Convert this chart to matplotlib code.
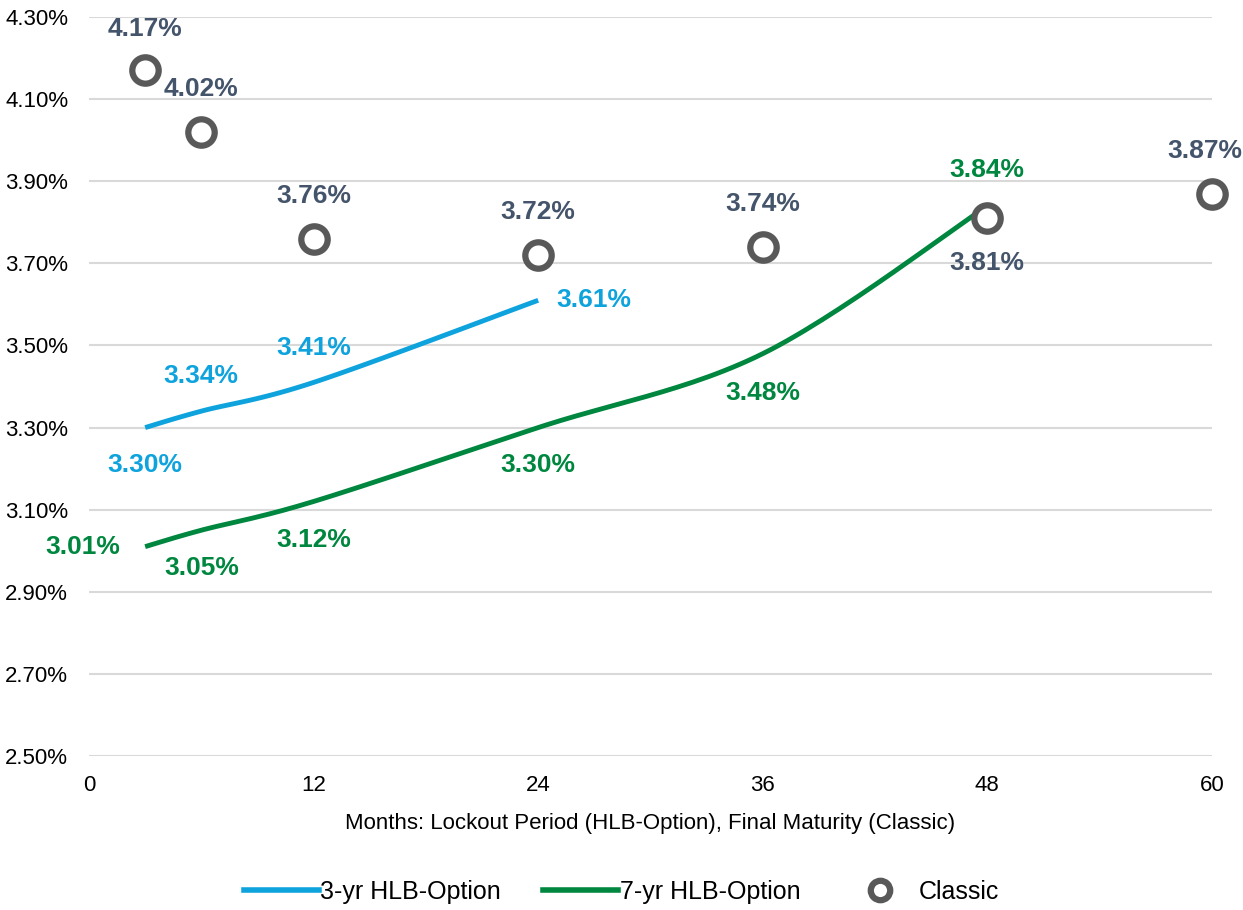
import numpy as np
import matplotlib
matplotlib.use("Agg")
import matplotlib.pyplot as plt
from matplotlib.lines import Line2D

plt.rcParams['font.family'] = ['Liberation Sans Narrow', 'Liberation Sans', 'DejaVu Sans']

# data
months_3yr = [3, 6, 12, 24]
rate_3yr = [3.30, 3.34, 3.41, 3.61]
months_7yr = [3, 6, 12, 24, 36, 48]
rate_7yr = [3.01, 3.05, 3.12, 3.30, 3.48, 3.84]
months_classic = [3, 6, 12, 24, 36, 48, 60]
rate_classic = [4.17, 4.02, 3.76, 3.72, 3.74, 3.81, 3.87]

# label offsets (points)
off_3yr = [(0, -27), (0, 25), (0, 25), (40, 0)]
off_7yr = [(-45, 0), (0, -27), (0, -28), (0, -27), (0, -28), (0, 26)]
off_classic = [(0, 30), (0, 31), (0, 31), (0, 31), (0, 31), (0, -32), (-5, 31)]

blue = '#0FA3DD'
green = '#00873F'
grey = '#595959'
lab_grey = '#44546A'


def smooth(x, y, ax_w=60.0, ax_h=1.8, n=30):
    # Excel-like smoothed line (Catmull-Rom style bezier) in normalised space
    px = np.array(x, float) / ax_w
    py = np.array(y, float) / ax_h * (740 / 1123)
    pts = np.column_stack([px, py])
    out = []
    for i in range(len(pts) - 1):
        p0 = pts[i - 1] if i > 0 else pts[i]
        p1 = pts[i]
        p2 = pts[i + 1]
        p3 = pts[i + 2] if i + 2 < len(pts) else pts[i + 1]
        c1 = p1 + (p2 - p0) / 6
        c2 = p2 - (p3 - p1) / 6
        t = np.linspace(0, 1, n)[:, None]
        seg = ((1 - t) ** 3) * p1 + 3 * ((1 - t) ** 2) * t * c1 + 3 * (1 - t) * t ** 2 * c2 + t ** 3 * p2
        out.append(seg if i == 0 else seg[1:])
    out = np.vstack(out)
    return out[:, 0] * ax_w, out[:, 1] * ax_h / (740 / 1123)


fig = plt.figure(figsize=(12.43, 9.10), dpi=100)
ax = fig.add_axes([0.0716, 0.1692, 0.9034, 0.8121])

sx, sy = smooth(months_3yr, rate_3yr)
ax.plot(sx, sy, color=blue, lw=3.5, solid_capstyle='butt', zorder=3)
sx, sy = smooth(months_7yr, rate_7yr)
ax.plot(sx, sy, color=green, lw=3.5, solid_capstyle='butt', zorder=3)
ax.plot(months_classic, rate_classic, 'o', ms=19, mfc='white', mec=grey, mew=4.5,
        ls='none', zorder=4, clip_on=False)

lab_kw = dict(textcoords='offset points', ha='center', va='center',
              fontsize=19, fontweight='bold')
for x, y, o in zip(months_3yr, rate_3yr, off_3yr):
    ax.annotate(f'{y:.2f}%', (x, y), xytext=o, color=blue, **lab_kw)
for x, y, o in zip(months_7yr, rate_7yr, off_7yr):
    ax.annotate(f'{y:.2f}%', (x, y), xytext=o, color=green, **lab_kw)
for x, y, o in zip(months_classic, rate_classic, off_classic):
    ax.annotate(f'{y:.2f}%', (x, y), xytext=o, color=lab_grey, **lab_kw)

ax.set_xlim(0, 60)
ax.set_ylim(2.5, 4.3)
ax.set_xticks([0, 12, 24, 36, 48, 60])
ax.set_yticks(np.arange(2.5, 4.31, 0.2))
ax.set_yticklabels([f'{v:.2f}%' for v in np.arange(2.5, 4.31, 0.2)])
ax.tick_params(length=0, labelsize=16, colors='black')
ax.tick_params(axis='y', pad=15)
ax.tick_params(axis='x', pad=14)
ax.grid(axis='y', color='#D9D9D9', lw=1.5)
ax.set_axisbelow(True)
for s in ax.spines.values():
    s.set_visible(False)
ax.set_xlabel('Months: Lockout Period (HLB-Option), Final Maturity (Classic)',
              fontsize=16, labelpad=12)

handles = [
    Line2D([], [], color=blue, lw=4),
    Line2D([], [], color=green, lw=4),
    Line2D([], [], marker='o', ls='none', ms=14, mfc='white', mec=grey, mew=4.5),
]
fig.legend(handles, ['3-yr HLB-Option', '7-yr HLB-Option', 'Classic'],
           loc='center', bbox_to_anchor=(0.5, 0.02), ncol=3, frameon=False,
           fontsize=18, handlelength=3.0, handletextpad=0.05, columnspacing=1.7)

fig.savefig('out.png', dpi=100)
